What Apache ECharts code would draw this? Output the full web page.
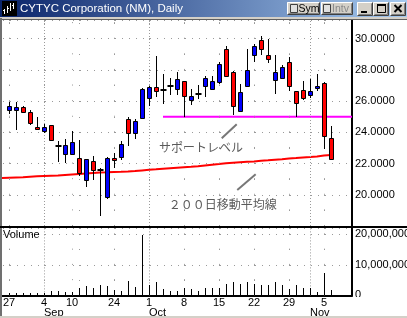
<!DOCTYPE html>
<html><head><meta charset="utf-8">
<script src="https://cdn.jsdelivr.net/npm/echarts@6/dist/echarts.min.js"></script>
<style>html,body{margin:0;padding:0;background:#fff;overflow:hidden}#c{width:407px;height:318px}</style>
</head><body><div id="c"></div>
<script>
// ---------------- DATA ----------------
const dates = ['08-27','08-28','08-29','08-30','08-31','09-04','09-05','09-06','09-07','09-10',
  '09-17','09-18','09-19','09-20','09-21','09-24','09-25','09-26','09-27','09-28',
  '10-01','10-02','10-03','10-04','10-05','10-08','10-09','10-10','10-11','10-12',
  '10-15','10-16','10-17','10-18','10-19','10-22','10-23','10-24','10-25','10-26',
  '10-29','10-30','10-31','11-01','11-02','11-05','11-06'];
const openP  = [25.45,25.45,25.62,25.30,24.34,24.10,24.47,23.10,22.61,22.61,
  22.35,20.96,22.18,21.60,19.83,22.37,22.42,24.85,23.96,24.92,
  26.20,26.92,26.71,26.94,26.79,27.26,26.07,26.49,26.94,26.79,
  27.22,29.36,27.90,25.40,26.99,28.93,29.94,28.97,27.33,27.48,
  28.48,26.62,26.69,26.37,26.84,27.16,23.63];
const closeP = [25.66,25.62,25.30,24.60,24.21,24.34,23.53,23.10,23.21,23.40,
  21.39,22.29,21.60,21.60,22.35,22.22,23.25,23.96,24.74,26.78,
  26.92,26.62,26.71,26.94,27.42,26.30,26.35,26.49,27.48,27.26,
  28.38,27.63,25.72,26.56,28.01,29.51,29.36,28.72,27.87,28.19,
  26.94,25.88,26.20,26.67,26.99,23.74,22.29];
const lowP   = [25.19,24.17,25.24,24.44,24.12,23.96,23.46,22.13,22.03,22.58,
  21.22,20.49,20.96,18.61,19.76,21.71,22.20,23.14,23.59,24.90,
  25.66,26.24,25.83,26.41,26.37,25.00,25.77,26.13,26.24,26.73,
  27.10,27.52,25.13,25.34,26.94,28.54,28.97,28.44,26.46,27.42,
  26.62,25.00,26.09,26.20,26.62,22.95,22.24];
const highP  = [25.94,25.92,25.66,25.45,24.98,24.53,24.50,23.42,23.57,24.06,
  23.53,22.30,22.46,21.71,22.39,22.67,23.42,24.98,24.85,26.86,
  26.99,28.91,27.74,27.48,27.90,27.30,26.78,27.05,27.58,27.58,
  28.54,29.51,27.92,27.12,29.36,29.68,30.19,30.00,28.97,28.33,
  28.83,26.66,27.26,27.44,27.76,27.20,24.42];
const volumeM = [0.8,0.8,0.8,0.8,0.8,0.9,1.6,1.5,1.2,1.2,
  2.4,3.2,2.4,3.5,3.2,1.7,1.3,4.6,2.6,19.8,
  3.5,4.5,2.1,1.3,1.3,2.4,2.2,1.6,2.5,2.4,
  2.5,3.7,4.5,3.6,4.4,3.7,3.4,3.4,4.4,3.5,
  2.1,3.5,2.3,2.3,1.2,7.5,1.8];
// 200-day moving average, first value is for 08-24 (the day before the first candle)
const ma200 = [21.07,21.09,21.11,21.13,21.16,21.18,21.20,21.22,21.24,21.27,
  21.30,21.33,21.36,21.40,21.43,21.44,21.46,21.47,21.49,21.52,
  21.56,21.60,21.63,21.67,21.70,21.73,21.76,21.79,21.83,21.88,
  21.93,21.97,22.02,22.05,22.08,22.11,22.14,22.18,22.21,22.25,
  22.28,22.32,22.35,22.39,22.42,22.46,22.51,22.55];
const supportLevel = 25.0;
const supportFrom = '10-03';
const dayTickDates = ['08-27','09-04','09-10','09-24','10-01','10-08','10-15','10-22','10-29','11-05'];
const dayTickLabels = ['27','4','10','24','1','8','15','22','29','5'];
const monthTickDates = ['09-04','10-01','11-01'];
const monthTickLabels = ['Sep','Oct','Nov'];
const priceTicks = [20,22,24,26,28,30];
const volumeTicks = [0,10000000,20000000];
const titleText = 'CYTYC Corporation (NM), Daily';
const note1 = 'サポートレベル';
const note2 = '２００日移動平均線';

// ---------------- BUILD ----------------
const idx = d => dates.indexOf(d);
const candleData = dates.map((d,i)=>[i, openP[i], closeP[i], lowP[i], highP[i]]);
const volData = dates.map((d,i)=>[i, volumeM[i]*1e6]);
const maData = ma200.map((v,k)=>[k-1, v]);
const X_MAX = 49;
const supportData = [[idx(supportFrom), supportLevel],[X_MAX, supportLevel]];
const dayIdx = dayTickDates.map(idx);
const monthIdx = monthTickDates.map(idx);
const weeklyIdx = dayIdx.filter(i => monthIdx.indexOf(i) < 0);
const FONT = '"Liberation Sans", Arial, sans-serif';
const DOT = '#9a9a9a';
const fmtComma = v => String(Math.round(v)).replace(/\B(?=(\d{3})+(?!\d))/g, ',');

const chart = echarts.init(document.getElementById('c'), null, {renderer:'canvas', width:407, height:318});

function vgrid(stepPx){
  return {
    silent:true, symbol:['none','none'], label:{show:false}, animation:false,
    data: monthIdx.map(i=>({xAxis:i, lineStyle:{color:DOT, width:1, type:[1,2]}}))
      .concat(weeklyIdx.map(i=>({xAxis:i, lineStyle:{color:DOT, width:1, type:[1,stepPx-1]}})))
  };
}

function btn(x,y,w,h){
  return [
    {type:'rect', z:100, shape:{x:x,y:y,width:w,height:h}, style:{fill:'#d4d0c8'}},
    {type:'polyline', z:101, shape:{points:[[x+0.5,y+h-0.5],[x+0.5,y+0.5],[x+w-0.5,y+0.5]]}, style:{stroke:'#ffffff', lineWidth:1, fill:'none'}},
    {type:'polyline', z:101, shape:{points:[[x+0.5,y+h-0.5],[x+w-0.5,y+h-0.5],[x+w-0.5,y+0.5]]}, style:{stroke:'#404040', lineWidth:1, fill:'none'}},
    {type:'polyline', z:101, shape:{points:[[x+1.5,y+h-1.5],[x+w-1.5,y+h-1.5],[x+w-1.5,y+1.5]]}, style:{stroke:'#808080', lineWidth:1, fill:'none'}}
  ];
}
function txt(id, s, x, y, font, fill, align){
  return {type:'text', id:id, z:102, style:{text:s, x:x, y:y, font:font, fill:fill,
    align:align||'left', textAlign:align||'left', verticalAlign:'middle', textVerticalAlign:'middle'}};
}

const frame = [].concat(
  [{type:'rect', z:100, shape:{x:0,y:0,width:407,height:18},
    style:{fill:new echarts.graphic.LinearGradient(0,0,1,0,[{offset:0,color:'#0a246a'},{offset:1,color:'#a6caf0'}])}},
   {type:'rect', z:100, shape:{x:0,y:17,width:407,height:2}, style:{fill:'#d4d0c8'}},
   {type:'rect', z:100, shape:{x:0,y:19,width:407,height:1}, style:{fill:'#606060'}},
   {type:'rect', z:100, shape:{x:0,y:18,width:2,height:300}, style:{fill:'#707070'}},
   {type:'rect', z:100, shape:{x:353,y:297,width:54,height:19}, style:{fill:'#ffffff'}},
   {type:'rect', z:100, shape:{x:0,y:316,width:407,height:2}, style:{fill:'#d4d0c8'}},
   {type:'rect', z:100, shape:{x:0,y:226,width:407,height:2}, style:{fill:'#000'}},
   // icon
   {type:'rect', z:101, shape:{x:2,y:1,width:15,height:15}, style:{fill:'#000'}},
   {type:'polyline', z:102, shape:{points:[[4.5,14],[4.5,9]]}, style:{stroke:'#fff',lineWidth:1}},
   {type:'polyline', z:102, shape:{points:[[7.5,13],[7.5,6]]}, style:{stroke:'#fff',lineWidth:1}},
   {type:'polyline', z:102, shape:{points:[[10.5,11],[10.5,3]]}, style:{stroke:'#fff',lineWidth:1}},
   {type:'polyline', z:102, shape:{points:[[13.5,9],[13.5,3]]}, style:{stroke:'#fff',lineWidth:1}},
   {type:'polyline', z:102, shape:{points:[[3,10.5],[4.5,10.5]]}, style:{stroke:'#fff',lineWidth:1}},
   {type:'polyline', z:102, shape:{points:[[7.5,8.5],[9,8.5]]}, style:{stroke:'#fff',lineWidth:1}},
   {type:'polyline', z:102, shape:{points:[[12,5.5],[13.5,5.5]]}, style:{stroke:'#fff',lineWidth:1}},
   txt('title', titleText, 20, 9, '11.5px '+FONT, '#ffffff')
  ],
  btn(287,2,33,13), btn(321,2,32,13), btn(357,2,16,14), btn(373,2,16,14), btn(390,2,16,14),
  [
   {type:'rect', z:102, shape:{x:290.5,y:4.5,width:7,height:8}, style:{fill:'#e0e0e0', stroke:'#404040', lineWidth:1}},
   txt('sym','Sym',298.5,9,'10.5px '+FONT,'#000'),
   {type:'rect', z:102, shape:{x:323.5,y:4.5,width:7,height:8}, style:{fill:'#e0e0e0', stroke:'#404040', lineWidth:1}},
   txt('intv','Intv',332,9,'10.5px '+FONT,'#8a8a8a'),
   {type:'rect', z:102, shape:{x:361,y:11,width:6,height:2}, style:{fill:'#000'}},
   {type:'rect', z:102, shape:{x:377.5,y:4.5,width:8,height:8}, style:{fill:'none', stroke:'#000', lineWidth:1}},
   {type:'rect', z:102, shape:{x:377,y:4,width:9,height:2}, style:{fill:'#000'}},
   {type:'polyline', z:102, shape:{points:[[394.5,5],[401.5,12]]}, style:{stroke:'#000',lineWidth:2}},
   {type:'polyline', z:102, shape:{points:[[401.5,5],[394.5,12]]}, style:{stroke:'#000',lineWidth:2}},
   txt('vol','Volume',3,235,'11px '+FONT,'#000')
  ]
);

const option = {
  animation:false,
  backgroundColor:'#ffffff',
  grid:[
    {left:2, top:20, width:350, height:206, containLabel:false, outerBoundsMode:'none'},
    {left:2, top:228, width:350, height:67.4, containLabel:false, outerBoundsMode:'none'}
  ],
  xAxis:[
    {gridIndex:0, type:'value', min:-1, max:X_MAX, position:'bottom',
     axisLine:{show:false,onZero:false}, axisTick:{show:false}, axisLabel:{show:false}, splitLine:{show:false}},
    {gridIndex:1, type:'value', min:-1, max:X_MAX, position:'bottom',
     axisLine:{show:true,onZero:false,lineStyle:{color:'#000',width:2}}, axisTick:{show:false}, splitLine:{show:false},
     axisLabel:{show:true, customValues:dayIdx, formatter:v=>dayTickLabels[dayIdx.indexOf(Math.round(v))]||'',
       color:'#000', fontFamily:FONT, fontSize:11, margin:2, hideOverlap:false}},
    {gridIndex:1, type:'value', min:-1, max:X_MAX, position:'bottom',
     axisLine:{show:false,onZero:false}, axisTick:{show:false}, splitLine:{show:false},
     axisLabel:{show:true, customValues:monthIdx, formatter:v=>monthTickLabels[monthIdx.indexOf(Math.round(v))]||'',
       align:'left', color:'#000', fontFamily:FONT, fontSize:11, margin:12, hideOverlap:false}}
  ],
  yAxis:[
    {gridIndex:0, type:'value', position:'right', min:18, max:31.2, interval:2,
     axisLine:{show:true,onZero:false,lineStyle:{color:'#000',width:2}}, axisTick:{show:false},
     axisLabel:{formatter:v=>priceTicks.indexOf(v)>=0? v.toFixed(4):'', color:'#000', fontFamily:FONT, fontSize:11, margin:3,
       showMinLabel:true, showMaxLabel:true},
     splitLine:{show:true, lineStyle:{color:DOT, width:1, type:[1,6], dashOffset:6}}},
    {gridIndex:0, type:'value', position:'left', min:18, max:31.2, interval:1,
     axisLine:{show:false,onZero:false}, axisTick:{show:false}, axisLabel:{show:false},
     splitLine:{show:true, lineStyle:{color:DOT, width:1, type:[1,34], dashOffset:28}}},
    {gridIndex:1, type:'value', position:'right', min:0, max:22.1e6, interval:1e7,
     axisLine:{show:true,onZero:false,lineStyle:{color:'#000',width:2}}, axisTick:{show:false},
     axisLabel:{formatter:v=>volumeTicks.indexOf(v)>=0? fmtComma(v):'', color:'#000', fontFamily:FONT, fontSize:11, margin:3,
       showMinLabel:true, showMaxLabel:true},
     splitLine:{show:true, lineStyle:{color:DOT, width:1, type:[1,6], dashOffset:6}}},
    {gridIndex:1, type:'value', position:'left', min:0, max:22.1e6, interval:5e6,
     axisLine:{show:false,onZero:false}, axisTick:{show:false}, axisLabel:{show:false},
     splitLine:{show:true, lineStyle:{color:DOT, width:1, type:[1,34], dashOffset:28}}}
  ],
  series:[
    {type:'line', xAxisIndex:0, yAxisIndex:0, data:[], z:1, symbol:'none', markLine:vgrid(15.606)},
    {type:'line', xAxisIndex:1, yAxisIndex:2, data:[], z:1, symbol:'none', markLine:vgrid(15.25)},
    {type:'line', name:'MA200', xAxisIndex:0, yAxisIndex:0, data:maData, z:3, symbol:'none',
     lineStyle:{color:'#ff0000', width:2}, silent:true},
    {type:'line', name:'support', xAxisIndex:0, yAxisIndex:0, data:supportData, z:3, symbol:'none',
     lineStyle:{color:'#ff00ff', width:2}, silent:true},
    {type:'custom', name:'price', xAxisIndex:0, yAxisIndex:0, data:candleData, z:5,
     encode:{x:0, y:[1,2,3,4]},
     renderItem:function(params, api){
       const x=api.value(0), o=api.value(1), c=api.value(2), l=api.value(3), h=api.value(4);
       const px = Math.round(api.coord([x,o])[0]) + 0.5;
       const yo=api.coord([x,o])[1], yc=api.coord([x,c])[1], yl=api.coord([x,l])[1], yh=api.coord([x,h])[1];
       const ch=[{type:'line', shape:{x1:px,y1:Math.round(yh),x2:px,y2:Math.round(yl)}, style:{stroke:'#000', lineWidth:1}}];
       const top=Math.min(yo,yc), bot=Math.max(yo,yc);
       if (bot-top < 1.5) {
         ch.push({type:'rect', shape:{x:px-3, y:Math.round((top+bot)/2)-1, width:6, height:2}, style:{fill:'#000'}});
       } else {
         const t=Math.round(top)+0.5, b=Math.round(bot)+0.5;
         ch.push({type:'rect', shape:{x:px-2, y:t, width:4, height:Math.max(1,b-t)},
           style:{fill: c>o ? '#0000ff' : '#ff0000', stroke:'#000', lineWidth:1}});
       }
       return {type:'group', children:ch};
     }},
    {type:'custom', name:'volume', xAxisIndex:1, yAxisIndex:2, data:volData, z:5,
     encode:{x:0, y:1},
     renderItem:function(params, api){
       const p0=api.coord([api.value(0),0]), p1=api.coord([api.value(0),api.value(1)]);
       const px=Math.round(p0[0])+0.5;
       return {type:'line', shape:{x1:px,y1:p0[1],x2:px,y2:Math.round(p1[1])}, style:{stroke:'#000', lineWidth:1}};
     }}
  ],
  graphic:{elements:frame}
};
chart.setOption(option);

// annotations anchored in data space (index, price)
const toPx = (i,p) => chart.convertToPixel({xAxisIndex:0, yAxisIndex:0}, [i,p]);
const t1 = toPx(27.43, 23.05), t2 = toPx(30.54, 19.39);
const s1a = toPx(30.39, 23.62), s1b = toPx(32.53, 24.52);
const s2a = toPx(32.61, 20.31), s2b = toPx(35.24, 21.31);
const JP = '12px "Noto Sans CJK JP", sans-serif';
chart.setOption({graphic:{elements:[
  {type:'text', id:'n1', z:102, style:{text:note1, x:t1[0], y:t1[1], font:JP, fill:'#5a5a5a', align:'center', textAlign:'center', verticalAlign:'middle', textVerticalAlign:'middle'}},
  {type:'text', id:'n2', z:102, style:{text:note2, x:t2[0], y:t2[1], font:JP, fill:'#5a5a5a', align:'center', textAlign:'center', verticalAlign:'middle', textVerticalAlign:'middle'}},
  {type:'line', id:'l1', z:102, shape:{x1:s1a[0],y1:s1a[1],x2:s1b[0],y2:s1b[1]}, style:{stroke:'#777', lineWidth:2}},
  {type:'line', id:'l2', z:102, shape:{x1:s2a[0],y1:s2a[1],x2:s2b[0],y2:s2b[1]}, style:{stroke:'#777', lineWidth:2}}
]}});
</script>
</body></html>
